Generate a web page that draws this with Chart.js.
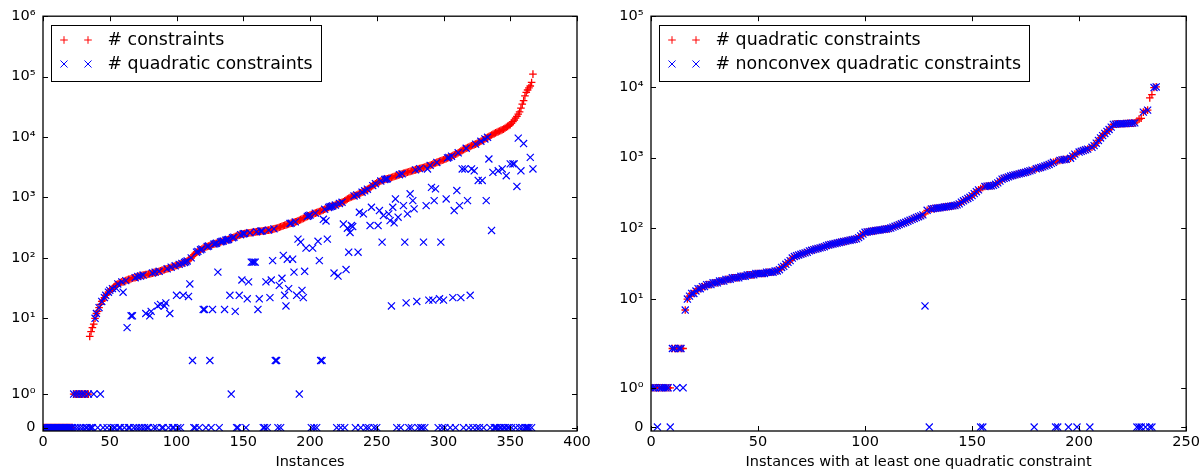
<!DOCTYPE html>
<html>
<head>
<meta charset="utf-8">
<script src="https://cdn.jsdelivr.net/npm/chart.js@4.4.0/dist/chart.umd.min.js"></script>
<style>
  body { margin: 0; background: #fff; }
  #wrap { position: relative; width: 1203px; height: 476px; }
  canvas { position: absolute; top: 0; }
  #left { left: 0; }
  #right { left: 600px; }
</style>
</head>
<body>
<div id="wrap">
  <canvas id="left" width="600" height="476"></canvas>
  <canvas id="right" width="603" height="476"></canvas>
</div>
<script>
// ---- data: left panel, instances sorted by # constraints ----
const leftConstraints = [
  0,0,0,0,0,0,0,0,0,0,
  0,0,0,0,0,0,0,0,0,0,
  0,0,0,1,1,1,1,1,1,1,
  1,1,1,1,1,5,6,7,8,10,
  12,13,15,17,19,20,22,24,25,27,
  29,30,31,33,34,36,37,38,39,40,
  40,41,42,43,44,44,45,46,47,47,
  48,49,50,50,51,52,52,53,53,54,
  54,55,56,57,58,58,59,60,61,62,
  63,64,65,66,67,68,70,71,72,74,
  75,76,78,79,81,82,84,86,89,92,
  95,100,106,112,118,124,128,132,136,140,
  145,148,151,154,157,160,163,166,169,172,
  175,178,181,184,187,190,193,196,199,202,
  205,210,215,220,225,230,234,238,242,246,
  250,252,254,256,258,260,262,264,266,268,
  270,272,274,276,278,280,282,284,286,288,
  290,294,298,302,306,310,316,322,328,334,
  340,346,352,358,364,370,376,382,388,394,
  400,410,420,430,440,450,462,474,486,498,
  510,520,530,540,550,560,572,584,596,608,
  620,636,652,668,684,700,712,724,736,748,
  760,778,796,814,832,850,880,910,940,970,
  1000,1020,1040,1060,1080,1100,1130,1160,1190,1220,
  1250,1290,1330,1370,1410,1450,1510,1570,1630,1690,
  1750,1790,1830,1870,1910,1950,1980,2010,2040,2070,
  2100,2140,2180,2220,2260,2300,2340,2380,2420,2460,
  2500,2540,2580,2620,2660,2700,2740,2780,2820,2860,
  2900,2950,3000,3050,3100,3140,3190,3240,3290,3340,
  3400,3480,3560,3640,3720,3800,3880,3960,4040,4120,
  4200,4300,4400,4500,4600,4700,4820,4940,5060,5180,
  5300,5480,5660,5840,6020,6200,6360,6520,6680,6840,
  7000,7160,7320,7480,7640,7800,8040,8280,8520,8760,
  9000,9300,9600,9900,10200,10500,10800,11100,11400,11700,
  12000,12300,12600,12900,13200,13500,14000,14500,15000,15500,
  16000,17000,18000,19000,20500,22000,24000,26000,30000,35000,
  40000,48000,55000,60000,65000,70000,80000,110000
];
const leftQuadratic = [
  0,0,0,0,0,0,0,0,0,0,
  0,0,0,0,0,0,0,0,0,0,
  0,0,0,1,0,1,0,1,0,1,
  0,1,0,0,1,0,0,0,1,10,
  12,0,15,1,19,0,22,24,0,27,
  29,0,31,0,0,31,37,0,0,40,
  27,0,42,7,0,0,11,11,0,47,
  0,49,0,50,0,52,0,12,0,0,
  11,13,56,0,58,0,16,60,17,0,
  0,16,18,66,0,12,70,0,0,74,
  24,0,78,0,81,24,84,86,89,23,
  37,100,2,0,0,124,128,0,136,140,
  14,14,0,154,157,2,0,14,169,172,
  175,58,0,184,187,190,14,196,199,202,
  24,1,215,220,13,0,0,24,242,43,
  250,252,0,21,40,260,85,85,85,85,
  270,14,21,276,278,0,0,40,0,288,
  22,43,90,302,2,2,0,35,0,46,
  110,24,16,95,31,370,376,95,58,394,
  24,204,1,182,29,22,60,145,486,498,
  510,0,145,0,550,0,188,90,2,2,
  435,636,408,204,684,700,712,724,56,748,
  0,50,796,0,832,363,0,64,310,124,
  263,343,330,1060,0,1100,124,569,0,1220,
  535,1290,0,1370,0,343,688,1570,0,1690,
  0,343,607,1870,182,502,1980,2010,2040,535,
  414,16,688,380,944,0,471,2380,0,2460,
  733,182,18,535,0,1150,0,885,647,2860,
  19,0,3000,0,0,182,0,733,2960,20,
  3400,1470,20,885,1385,3800,0,21,182,0,
  20,0,944,4500,4600,0,4820,22,607,0,
  1300,5480,733,22,2960,0,2960,6520,885,0,
  24,2960,0,2760,7640,0,1910,0,8520,1910,
  0,9300,885,9900,4330,0,284,2600,0,0,
  0,2760,0,0,2960,0,0,2290,0,0,
  3590,0,3590,3590,0,1520,9600,0,2760,0,
  7800,0,0,0,0,4600,0,2960
];

// ---- data: right panel, instances with >= 1 quadratic constraint ----
const rightQuadratic = [
  1,1,1,1,1,1,1,1,1,1,
  2,2,2,2,2,2,7,10,11,12,
  12,13,14,14,15,15,16,16,16,17,
  17,17,18,18,18,19,19,19,20,20,
  20,20,21,21,21,22,22,22,22,23,
  23,23,23,23,24,24,24,24,25,25,
  26,28,29,31,33,35,38,40,41,42,
  43,44,45,46,48,49,50,51,52,53,
  54,55,57,58,59,60,61,62,63,64,
  65,66,67,68,69,70,71,74,78,83,
  88,89,90,91,92,93,94,95,96,97,
  98,99,101,104,107,110,113,116,119,122,
  126,130,134,138,142,146,150,155,160,180,
  185,188,190,192,194,196,198,200,202,204,
  206,208,210,215,222,235,245,255,265,275,
  290,310,330,350,365,380,390,395,398,400,
  405,420,440,465,495,510,520,535,550,560,
  570,580,590,600,610,620,635,650,665,680,
  695,710,725,740,760,780,800,830,860,880,
  900,915,930,940,950,960,980,1050,1120,1160,
  1200,1230,1260,1290,1320,1360,1400,1480,1600,1750,
  1900,2050,2200,2350,2500,2700,2950,2980,3000,3000,
  3020,3030,3040,3050,3060,3080,3100,3300,3500,3600,
  4400,4600,4700,7000,7800,9800,10000
];
const rightNonconvex = [
  1,1,1,0,1,1,1,1,1,0,
  2,2,1,2,2,1,7,10,11,12,
  12,13,14,14,15,15,16,16,16,17,
  17,17,18,18,18,19,19,19,20,20,
  20,20,21,21,21,22,22,22,22,23,
  23,23,23,23,24,24,24,24,25,25,
  26,28,29,31,33,35,38,40,41,42,
  43,44,45,46,48,49,50,51,52,53,
  54,55,57,58,59,60,61,62,63,64,
  65,66,67,68,69,70,71,74,78,83,
  88,89,90,91,92,93,94,95,96,97,
  98,99,101,104,107,110,113,116,119,122,
  126,130,134,138,142,146,150,155,8,180,
  0,188,190,192,194,196,198,200,202,204,
  206,208,210,215,222,235,245,255,265,275,
  290,310,330,350,0,0,390,395,398,400,
  405,420,440,465,495,510,520,535,550,560,
  570,580,590,600,610,620,635,650,665,0,
  695,710,725,740,760,780,800,830,860,0,
  0,915,930,940,950,0,980,1050,1120,0,
  1200,1230,1260,1290,1320,0,1400,1480,1600,1750,
  1900,2050,2200,2350,2500,2700,2950,2980,3000,3000,
  3020,3030,3040,3050,3060,3080,3100,0,0,0,
  4400,0,4700,0,0,9800,10000
];

// ---- ticks ----
const leftXTicks = [0, 50, 100, 150, 200, 250, 300, 350, 400];
const rightXTicks = [0, 50, 100, 150, 200, 250];
const leftYTicks = [0, 1, 10, 100, 1000, 10000, 100000, 1000000];
const leftYLabels = ['0', '10⁰', '10¹', '10²', '10³', '10⁴', '10⁵', '10⁶'];
const rightYTicks = [0, 1, 10, 100, 1000, 10000, 100000];
const rightYLabels = ['0', '10⁰', '10¹', '10²', '10³', '10⁴', '10⁵'];

// matplotlib-style symlog, linthresh 2, linscale 1
const LINSCALE = 1 / (1 - 1 / 10);
function symlog(v) {
  const a = Math.abs(v);
  const t = a <= 2 ? a * LINSCALE : 2 * (LINSCALE + Math.log10(a / 2));
  return v < 0 ? -t : t;
}
function symexp(t) {
  const a = Math.abs(t);
  const v = a <= 2 * LINSCALE ? a / LINSCALE : 2 * Math.pow(10, a / 2 - LINSCALE);
  return t < 0 ? -v : v;
}

class SymlogScale extends Chart.Scale {
  parse(raw) { return raw == null ? null : +raw; }
  determineDataLimits() { this.min = this.options.min; this.max = this.options.max; }
  buildTicks() { return []; }
  configure() {
    super.configure();
    this._lo = symlog(this.min);
    this._hi = symlog(this.max);
  }
  getLabelForValue(v) { return String(v); }
  getPixelForValue(v) {
    return this.getPixelForDecimal((symlog(v) - this._lo) / (this._hi - this._lo));
  }
  getValueForPixel(p) {
    return symexp(this._lo + this.getDecimalForPixel(p) * (this._hi - this._lo));
  }
}
SymlogScale.id = 'symlog';
SymlogScale.defaults = {};
Chart.register(SymlogScale);

Chart.defaults.font.family = "'DejaVu Sans', sans-serif";
Chart.defaults.font.size = 14.5;
Chart.defaults.color = '#000';

// box + inward ticks on all four sides
const frame = {
  id: 'frame',
  afterDraw(chart) {
    const { ctx, chartArea: a, scales: { x, y } } = chart;
    ctx.save();
    ctx.strokeStyle = '#000';
    ctx.lineWidth = 1;
    ctx.beginPath();
    x.ticks.forEach(t => {
      const px = Math.round(x.getPixelForValue(t.value)) + 0.5;
      ctx.moveTo(px, a.bottom); ctx.lineTo(px, a.bottom - 5);
      ctx.moveTo(px, a.top); ctx.lineTo(px, a.top + 5);
    });
    y.ticks.forEach(t => {
      const py = Math.round(y.getPixelForValue(t.value)) + 0.5;
      ctx.moveTo(a.left, py); ctx.lineTo(a.left + 5, py);
      ctx.moveTo(a.right, py); ctx.lineTo(a.right - 5, py);
    });
    ctx.stroke();
    ctx.lineWidth = 1.3;
    ctx.strokeRect(a.left, a.top, a.right - a.left, a.bottom - a.top);
    ctx.restore();
  }
};

// matplotlib-like legend: framed, two markers per entry
const boxLegend = {
  id: 'boxLegend',
  afterDraw(chart) {
    const { ctx, chartArea: a } = chart;
    const ds = chart.data.datasets;
    ctx.save();
    ctx.font = "17.4px 'DejaVu Sans'";
    const textW = Math.max(...ds.map(d => ctx.measureText(d.label).width));
    const bx = Math.round(a.left + 8) + 0.5, by = Math.round(a.top + 9) + 0.5;
    const bw = Math.round(56.5 + textW + 8), bh = 56;
    ctx.fillStyle = '#fff';
    ctx.fillRect(bx, by, bw, bh);
    ctx.strokeStyle = '#000';
    ctx.lineWidth = 1;
    ctx.strokeRect(bx, by, bw, bh);
    ds.forEach((d, i) => {
      const cy = by + 14.5 + 24 * i;
      const style = { pointStyle: d.pointStyle, radius: d.pointRadius, borderWidth: 1, rotation: 0 };
      ctx.strokeStyle = d.pointBorderColor;
      ctx.lineWidth = 1;
      Chart.helpers.drawPoint(ctx, style, bx + 12.5, cy);
      Chart.helpers.drawPoint(ctx, style, bx + 36.5, cy);
      ctx.fillStyle = '#000';
      ctx.textBaseline = 'middle';
      ctx.textAlign = 'left';
      ctx.fillText(d.label, bx + 56, cy);
    });
    ctx.restore();
  }
};

function makeChart(id, cfg) {
  const toPoints = arr => arr.map((v, i) => ({ x: i, y: v }));
  return new Chart(document.getElementById(id), {
    type: 'scatter',
    data: {
      datasets: [
        {
          label: cfg.labels[0],
          data: toPoints(cfg.red),
          pointStyle: 'cross',
          pointRadius: 3.8,
          pointHoverRadius: 3.8,
          pointBorderColor: '#ff0000',
          pointBackgroundColor: 'transparent',
          pointBorderWidth: 1.3,
          clip: 0,
          order: 2
        },
        {
          label: cfg.labels[1],
          data: toPoints(cfg.blue),
          pointStyle: 'crossRot',
          pointRadius: 5,
          pointHoverRadius: 5,
          pointBorderColor: '#0000ff',
          pointBackgroundColor: 'transparent',
          pointBorderWidth: 1.2,
          clip: 0,
          order: 1
        }
      ]
    },
    options: {
      responsive: false,
      animation: false,
      devicePixelRatio: 1,
      layout: { padding: { top: 16, right: cfg.padRight, left: 0, bottom: 0 } },
      plugins: { legend: { display: false }, tooltip: { enabled: false } },
      scales: {
        x: {
          type: 'linear',
          min: 0,
          max: cfg.xTicks[cfg.xTicks.length - 1],
          grid: { display: false, drawTicks: false },
          border: { display: false },
          ticks: { padding: 3, autoSkip: false, maxRotation: 0 },
          title: { display: true, text: cfg.xTitle, padding: { top: 0, bottom: 5.5 } },
          afterBuildTicks: s => { s.ticks = cfg.xTicks.map(v => ({ value: v })); },
          afterFit: s => { s.height = 45; }
        },
        y: {
          type: 'symlog',
          min: -0.1,
          max: cfg.yTicks[cfg.yTicks.length - 1],
          grid: { display: false, drawTicks: false },
          border: { display: false },
          ticks: {
            padding: 7.5,
            autoSkip: false,
            callback: v => cfg.yLabels[cfg.yTicks.indexOf(v)]
          },
          afterBuildTicks: s => { s.ticks = cfg.yTicks.map(v => ({ value: v })); },
          afterFit: s => { s.width = cfg.yWidth; }
        }
      }
    },
    plugins: [frame, boxLegend]
  });
}

makeChart('left', {
  red: leftConstraints,
  blue: leftQuadratic,
  labels: ['# constraints', '# quadratic constraints'],
  xTicks: leftXTicks,
  yTicks: leftYTicks,
  yLabels: leftYLabels,
  xTitle: 'Instances',
  yWidth: 43,
  padRight: 23
});

makeChart('right', {
  red: rightQuadratic,
  blue: rightNonconvex,
  labels: ['# quadratic constraints', '# nonconvex quadratic constraints'],
  xTicks: rightXTicks,
  yTicks: rightYTicks,
  yLabels: rightYLabels,
  xTitle: 'Instances with at least one quadratic constraint',
  yWidth: 51,
  padRight: 16
});
</script>
</body>
</html>
